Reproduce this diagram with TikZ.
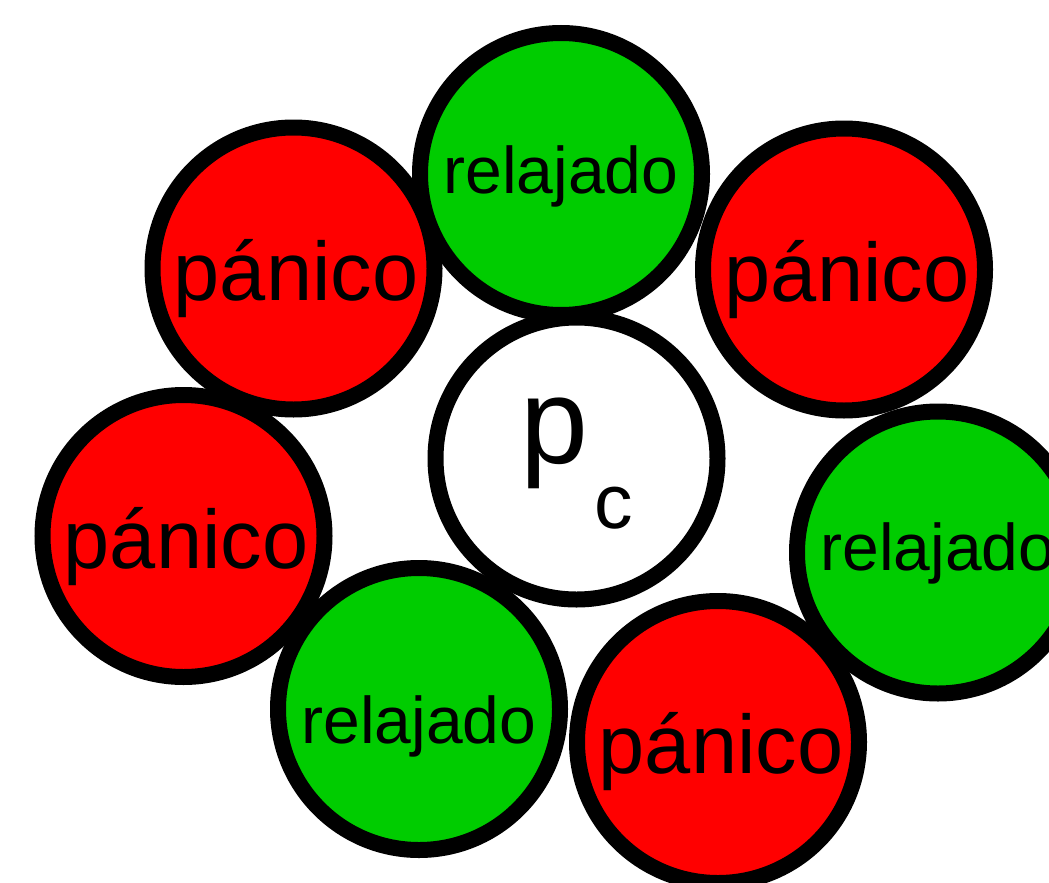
\documentclass[tikz,border=0pt]{standalone}
\usepackage{fontspec}
\setmainfont{Liberation Sans}
\definecolor{myred}{RGB}{255,0,0}
\definecolor{mygreen}{RGB}{0,204,0}
\tikzset{
  disc/.style={circle, draw=black, line width=16pt, minimum size=282pt, inner sep=0pt},
  panic/.style={disc, fill=myred},
  relax/.style={disc, fill=mygreen},
  bigword/.style={anchor=base, inner sep=0pt, font=\fontsize{83}{90}\selectfont},
  smallword/.style={anchor=base, inner sep=0pt, font=\fontsize{66}{72}\selectfont},
}
\begin{document}
\begin{tikzpicture}[x=1pt,y=-1pt]
\useasboundingbox (0,0) rectangle (1049,883);
\clip (0,0) rectangle (1049,883);
\node[relax] (ctop) at (561,174) {};
\node[panic] (ctl) at (293.5,268.5) {};
\node[panic] (ctr) at (844,269.5) {};
\node[panic] (cl) at (183.5,536) {};
\node[relax] (cr) at (938,552.5) {};
\node[relax] (cbl) at (419,709) {};
\node[panic] (cbr) at (718,742) {};
\node[disc, fill=white] (cc) at (576.5,458.5) {};
\node[smallword] (ttop) at (561,193) {relajado};
\node[bigword] (ttl) at (296,300) {pánico};
\node[bigword] (ttr) at (847,301.5) {pánico};
\node[bigword] (tl) at (186,568) {pánico};
\node[smallword] (tr) at (938,570) {relajado};
\node[smallword] (tbl) at (419,743) {relajado};
\node[bigword] (tbr) at (721,773) {pánico};
\node[anchor=base west, inner sep=0pt, font=\fontsize{122}{130}\selectfont] (tp) at (520,463) {p};
\node[anchor=base west, inner sep=0pt, font=\fontsize{77}{85}\selectfont] (tc) at (594,528) {c};
\end{tikzpicture}
\end{document}
